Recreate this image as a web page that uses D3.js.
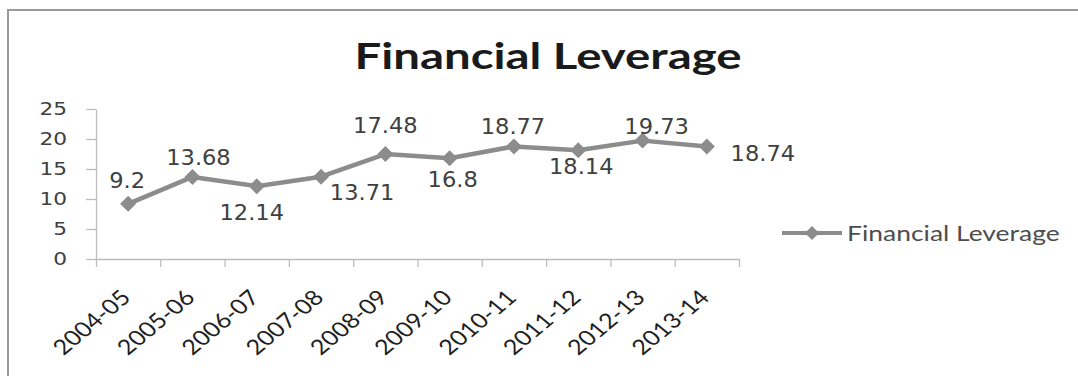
<!doctype html>
<html>
  <head>
    <script src="https://cdnjs.cloudflare.com/ajax/libs/d3/7.8.5/d3.min.js"></script>
    <style>
      body { margin: 0; background: #fff; }
      svg { display: block; }
    </style>
  </head>
  <body>
    <svg width="1078" height="376"></svg>
    <script>
      // chart values
      var years = ["2004-05", "2005-06", "2006-07", "2007-08", "2008-09",
                   "2009-10", "2010-11", "2011-12", "2012-13", "2013-14"];
      var leverage = [9.2, 13.68, 12.14, 13.71, 17.48, 16.8, 18.77, 18.14, 19.73, 18.74];
      var yTicks = [0, 5, 10, 15, 20, 25];
      var seriesName = "Financial Leverage";
      var chartTitle = "Financial Leverage";

      // where each data label sits relative to its marker (dx, dy of baseline centre)
      var labelNudge = [[-1, -16], [6, -12], [-5, 34], [41, 23], [0, -21],
                        [3, 29], [-1, -12], [3, 24], [14, -7], [56, 14]];

      var stretch = 1.2;   // the original picture is wider than tall
      var lineColor = "#8c8c8c";
      var axisColor = "#bdbdbd";

      var svg = d3.select("svg");

      // outer chart border (only top and left visible)
      svg.append("rect")
        .attr("x", 8).attr("y", 10)
        .attr("width", 1090).attr("height", 400)
        .attr("fill", "none")
        .attr("stroke", "#9a9a9a")
        .attr("stroke-width", 2);

      svg.append("text")
        .attr("transform", "translate(548,69) scale(1.28,1)")
        .attr("text-anchor", "middle")
        .style("font-family", "Lato")
        .style("font-weight", "bold")
        .style("font-size", "37px")
        .style("fill", "#1a1a1a")
        .text(chartTitle);

      var x = d3.scaleBand().domain(years).range([96, 739]);
      var xIdx = d3.scaleLinear().domain([0, years.length]).range([96, 739]);
      var y = d3.scaleLinear().domain([0, 25]).range([259, 109]);

      // y axis
      var gy = svg.append("g")
        .attr("transform", "translate(96,0)")
        .call(d3.axisLeft(y).tickValues(yTicks).tickSize(10).tickSizeOuter(0));
      gy.select(".domain").attr("stroke", axisColor).attr("stroke-width", 1.3);
      gy.selectAll(".tick line").attr("stroke", axisColor).attr("stroke-width", 1.3);
      gy.selectAll(".tick text")
        .attr("x", null)
        .attr("transform", "translate(-29,0) scale(" + (stretch + 0.04) + ",1)")
        .style("font-family", "DejaVu Sans")
        .style("font-size", "17.5px")
        .style("fill", "#404040");

      // x axis with ticks between categories
      var gx = svg.append("g")
        .attr("transform", "translate(0,259)")
        .call(d3.axisBottom(xIdx).tickValues(d3.range(years.length + 1))
          .tickSize(8).tickSizeOuter(0).tickFormat(""));
      gx.select(".domain").attr("stroke", axisColor).attr("stroke-width", 1.3);
      gx.selectAll(".tick line").attr("stroke", axisColor).attr("stroke-width", 1.3);

      svg.append("g").selectAll("text").data(years)
        .enter()
        .append("text")
          .attr("transform", d => "translate(" + (x(d) + x.bandwidth() / 2 + 4) + ",299) scale(" + stretch + ",1) rotate(-45)")
          .attr("text-anchor", "end")
          .style("font-family", "Lato")
          .style("font-size", "21px")
          .style("fill", "#1f1f1f")
          .text(d => d);

      // series line
      var pts = years.map((d, i) => ({ year: d, value: leverage[i], i: i }));
      var line = d3.line()
        .x(d => x(d.year) + x.bandwidth() / 2)
        .y(d => y(d.value));

      svg.append("path")
        .datum(pts)
        .attr("d", line)
        .attr("fill", "none")
        .attr("stroke", lineColor)
        .attr("stroke-width", 4.5)
        .attr("stroke-linejoin", "round");

      var diamond = d3.symbol().type(d3.symbolSquare).size(128);
      svg.append("g").selectAll("path").data(pts)
        .enter()
        .append("path")
          .attr("d", diamond)
          .attr("transform", d => "translate(" + (x(d.year) + x.bandwidth() / 2) + "," + y(d.value) + ") rotate(45)")
          .attr("fill", lineColor);

      svg.append("g").selectAll("text").data(pts)
        .enter()
        .append("text")
          .attr("transform", d => "translate(" + (x(d.year) + x.bandwidth() / 2 + labelNudge[d.i][0]) + "," +
                (y(d.value) + labelNudge[d.i][1]) + ") scale(1.1,1)")
          .attr("text-anchor", "middle")
          .style("font-family", "DejaVu Sans")
          .style("font-size", "20.5px")
          .style("fill", "#404040")
          .text(d => d.value);

      // legend
      var legend = svg.append("g").attr("transform", "translate(782,233)");
      legend.append("line")
        .attr("x1", 0).attr("x2", 60)
        .attr("stroke", lineColor)
        .attr("stroke-width", 4);
      legend.append("path")
        .attr("d", d3.symbol().type(d3.symbolSquare).size(100))
        .attr("transform", "translate(30,0) rotate(45)")
        .attr("fill", lineColor);
      legend.append("text")
        .attr("transform", "translate(65,8) scale(1.26,1)")
        .style("font-family", "Lato")
        .style("font-size", "21px")
        .style("fill", "#4d4d4d")
        .text(seriesName);
    </script>
  </body>
</html>
